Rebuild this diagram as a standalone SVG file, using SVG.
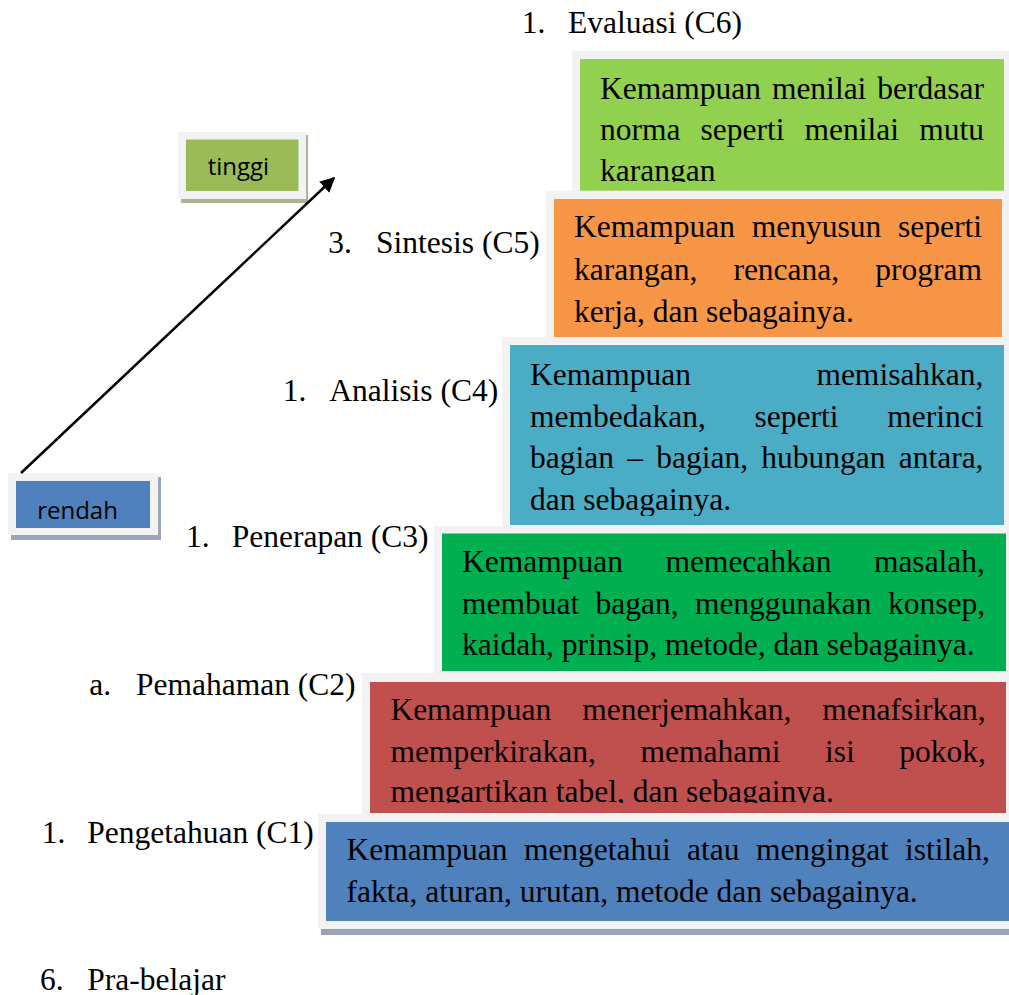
<svg xmlns="http://www.w3.org/2000/svg" width="1009" height="995" viewBox="0 0 1009 995">
<style>
.t{font-family:"Liberation Serif","Times New Roman",serif;font-size:31.5px;fill:#000}
.s{font-family:"Open Sans","Noto Sans",sans-serif;font-size:24px;fill:#000}
.o{fill:#f2f2f2}
</style>
<defs>
<marker id="ah" viewBox="0 0 10 10" refX="9" refY="5" markerWidth="6" markerHeight="6" markerUnits="strokeWidth" orient="auto">
<path d="M0,0 L10,5 L0,10 z" fill="#000"/>
</marker>
<clipPath id="c6"><rect x="580" y="59" width="424" height="123"/></clipPath>
<clipPath id="c4"><rect x="510" y="345" width="494" height="171"/></clipPath>
<clipPath id="c2"><rect x="370" y="682" width="636" height="121"/></clipPath>
</defs>
<rect width="1009" height="995" fill="#fff"/>

<g id="label-c6"><text class="t" x="521.7" y="33">1.</text><text class="t" x="568" y="33">Evaluasi (C6)</text></g>
<g id="label-c5"><text class="t" x="328.3" y="253">3.</text><text class="t" x="376" y="253">Sintesis (C5)</text></g>
<g id="label-c4"><text class="t" x="282.7" y="401">1.</text><text class="t" x="329.3" y="401">Analisis (C4)</text></g>
<g id="label-c3"><text class="t" x="186" y="547">1.</text><text class="t" x="231.7" y="547">Penerapan (C3)</text></g>
<g id="label-c2"><text class="t" x="89.3" y="695">a.</text><text class="t" x="136" y="695">Pemahaman (C2)</text></g>
<g id="label-c1"><text class="t" x="41.7" y="843">1.</text><text class="t" x="87.3" y="843">Pengetahuan (C1)</text></g>
<g id="label-pra"><text class="t" x="40" y="990">6.</text><text class="t" x="87.3" y="990">Pra-belajar</text></g>

<g id="box-c6">
<rect class="o" x="572" y="51" width="437" height="148"/>
<rect x="580" y="59" width="424" height="131.7" fill="#92d050"/>
<g clip-path="url(#c6)">
<text class="t" y="99"><tspan x="600">Kemampuan</tspan><tspan x="771.9">menilai</tspan><tspan x="877.3">berdasar</tspan></text>
<text class="t" y="140"><tspan x="600">norma</tspan><tspan x="700.6">seperti</tspan><tspan x="804.6">menilai</tspan><tspan x="919.2">mutu</tspan></text>
<text class="t" x="600" y="181">karangan</text>
</g>
</g>

<g id="box-c5">
<rect class="o" x="546" y="191" width="463" height="154"/>
<rect x="554" y="199" width="448" height="138" fill="#f79646"/>
<text class="t" y="237"><tspan x="574">Kemampuan</tspan><tspan x="751.8">menyusun</tspan><tspan x="898">seperti</tspan></text>
<text class="t" y="280"><tspan x="574">karangan,</tspan><tspan x="733.4">rencana,</tspan><tspan x="875.3">program</tspan></text>
<text class="t" x="574" y="322">kerja, dan sebagainya.</text>
</g>

<g id="box-c4">
<rect class="o" x="502" y="337" width="507" height="196"/>
<rect x="510" y="345" width="494" height="180" fill="#4bacc6"/>
<g clip-path="url(#c4)">
<text class="t" y="385"><tspan x="530">Kemampuan</tspan><tspan x="816.4">memisahkan,</tspan></text>
<text class="t" y="427"><tspan x="530">membedakan,</tspan><tspan x="754.6">seperti</tspan><tspan x="887.3">merinci</tspan></text>
<text class="t" y="468"><tspan x="530">bagian</tspan><tspan x="627.2">–</tspan><tspan x="656.2">bagian,</tspan><tspan x="761.3">hubungan</tspan><tspan x="898.7">antara,</tspan></text>
<text class="t" x="530" y="510">dan sebagainya.</text>
</g>
</g>

<g id="box-c3">
<rect class="o" x="434" y="526" width="575" height="155"/>
<rect x="442" y="533.5" width="564" height="137.5" fill="#00b050"/>
<text class="t" y="572"><tspan x="462">Kemampuan</tspan><tspan x="665.4">memecahkan</tspan><tspan x="873.9">masalah,</tspan></text>
<text class="t" y="614"><tspan x="462">membuat</tspan><tspan x="595.5">bagan,</tspan><tspan x="694.9">menggunakan</tspan><tspan x="887.9">konsep,</tspan></text>
<text class="t" x="462" y="655">kaidah, prinsip, metode, dan sebagainya.</text>
</g>

<g id="box-c2">
<rect class="o" x="362" y="673" width="647" height="149"/>
<rect x="370" y="682" width="636" height="131" fill="#c0504d"/>
<g clip-path="url(#c2)">
<text class="t" y="720"><tspan x="390.4">Kemampuan</tspan><tspan x="582.3">menerjemahkan,</tspan><tspan x="822.2">menafsirkan,</tspan></text>
<text class="t" y="762"><tspan x="390.4">memperkirakan,</tspan><tspan x="640.5">memahami</tspan><tspan x="824.9">isi</tspan><tspan x="899.2">pokok,</tspan></text>
<text class="t" x="390.4" y="802">mengartikan tabel, dan sebagainya.</text>
</g>
</g>

<g id="box-c1">
<rect x="321" y="818" width="688" height="117" fill="#97a4b8"/>
<rect class="o" x="318" y="814" width="691" height="115"/>
<rect x="326" y="822" width="683" height="99" fill="#4f81bd"/>
<text class="t" y="860"><tspan x="346.6">Kemampuan</tspan><tspan x="523.9">mengetahui</tspan><tspan x="687.1">atau</tspan><tspan x="755.9">mengingat</tspan><tspan x="905.1">istilah,</tspan></text>
<text class="t" x="346.6" y="902">fakta, aturan, urutan, metode dan sebagainya.</text>
</g>

<g id="node-tinggi">
<rect x="181" y="135" width="127" height="68" fill="#a9b592"/>
<rect class="o" x="178" y="132" width="128" height="67"/>
<rect x="186" y="139.5" width="112.5" height="51.5" fill="#9bbb59"/>
<text class="s" x="238.4" y="175" text-anchor="middle">tinggi</text>
</g>

<g id="node-rendah">
<rect x="11" y="477" width="150" height="63" fill="#9aa7bb"/>
<rect class="o" x="8" y="473" width="150" height="62"/>
<rect x="16" y="481" width="134" height="47" fill="#4f81bd"/>
<text class="s" x="77.5" y="519" text-anchor="middle">rendah</text>
</g>

<g id="connectors">
<line x1="21" y1="473" x2="334" y2="178" stroke="#000" stroke-width="2.5" marker-end="url(#ah)"/>
</g>
</svg>
